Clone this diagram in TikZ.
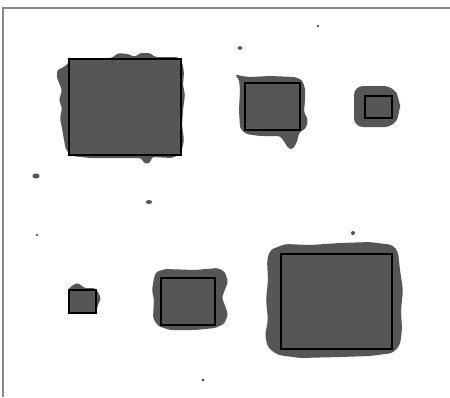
\documentclass[tikz,border=0pt]{standalone}
\usetikzlibrary{calc}
\definecolor{blobgray}{HTML}{565656}
\definecolor{framegray}{HTML}{8A8A8A}
\tikzset{
  blob/.style={fill=blobgray, draw=none, rounded corners=2.5pt},
  core/.style={fill=blobgray, draw=black, line width=2pt},
  speck/.style={fill=blobgray, draw=none},
  frameline/.style={draw=framegray, line width=1.2pt}
}
\begin{document}
\begin{tikzpicture}[x=1pt,y=-1pt]
\useasboundingbox (0,0) rectangle (450,397);
\fill[white] (0,0) rectangle (450,397);
% frame
\draw[frameline] (3,397) -- (3,8) -- (450,8);
% blob 1
\path[blob] (62,68) -- (68,64) -- (70,58) -- (112,58) -- (118,53) -- (128,54) -- (135,57) -- (140,53) -- (150,53) -- (155,57) -- (178,57) -- (182,62) -- (184,72) -- (183,85) -- (185,95) -- (183,110) -- (182,125) -- (184,140) -- (181,154) -- (172,158) -- (152,157) -- (150,163) -- (145,164) -- (141,158) -- (120,158) -- (90,158) -- (72,156) -- (66,150) -- (64,140) -- (62,128) -- (60,118) -- (62,108) -- (59,100) -- (62,90) -- (57,78) -- (57,70) -- cycle;
\node[core, minimum width=112pt, minimum height=96pt, inner sep=0pt, anchor=north west] (r1) at (68,58) {};
% blob 2
\path[blob] (235,74) -- (241,76) -- (250,77) -- (270,76) -- (295,77) -- (302,80) -- (305,88) -- (305,100) -- (304,112) -- (308,120) -- (306,128) -- (299,133) -- (297,142) -- (293,149) -- (289,149) -- (283,140) -- (280,136) -- (260,136) -- (246,134) -- (240,128) -- (239,110) -- (240,90) -- (239,80) -- cycle;
\node[core, minimum width=55pt, minimum height=47pt, inner sep=0pt, anchor=north west] (r2) at (244,82) {};
% blob 3
\path[blob, rounded corners=9pt] (354,86) -- (393,86) -- (400,100) -- (400,112) -- (394,127) -- (354,127) -- cycle;
\node[core, minimum width=27pt, minimum height=22pt, inner sep=0pt, anchor=north west] (r3) at (364,95) {};
% blob 4
\path[blob] (68,289) -- (72,286) -- (76,283) -- (80,284) -- (84,288) -- (95,288) -- (98,292) -- (101,298) -- (98,305) -- (96,312) -- (68,312) -- cycle;
\node[core, minimum width=27pt, minimum height=23pt, inner sep=0pt, anchor=north west] (r4) at (68,289) {};
% blob 5
\path[blob] (156,272) -- (165,269) -- (195,270) -- (218,268) -- (225,272) -- (228,282) -- (224,292) -- (222,298) -- (226,308) -- (228,315) -- (224,324) -- (215,328) -- (195,330) -- (170,330) -- (158,326) -- (153,318) -- (154,300) -- (152,290) -- (154,278) -- cycle;
\node[core, minimum width=54pt, minimum height=47pt, inner sep=0pt, anchor=north west] (r5) at (160,277) {};
% blob 6
\path[blob, rounded corners=4pt] (275,248) -- (285,244) -- (310,245) -- (340,243) -- (370,242) -- (393,245) -- (398,252) -- (400,270) -- (403,290) -- (401,310) -- (402,330) -- (400,345) -- (393,353) -- (370,356) -- (340,357) -- (300,358) -- (278,355) -- (268,348) -- (265,335) -- (268,320) -- (266,300) -- (268,280) -- (267,260) -- (270,250) -- cycle;
\node[core, minimum width=111pt, minimum height=95pt, inner sep=0pt, anchor=north west] (r6) at (280,253) {};
% specks
\fill[speck] (318,26) circle (1.4pt);
\fill[speck] (240,48) ellipse (2.4pt and 1.8pt);
\fill[speck] (36,176) ellipse (3.6pt and 2.6pt);
\fill[speck] (149,202) ellipse (3.2pt and 2pt);
\fill[speck] (37,235) ellipse (1.6pt and 1pt);
\fill[speck] (353,233) circle (2pt);
\fill[speck] (203,380) circle (1.6pt);
\end{tikzpicture}
\end{document}
